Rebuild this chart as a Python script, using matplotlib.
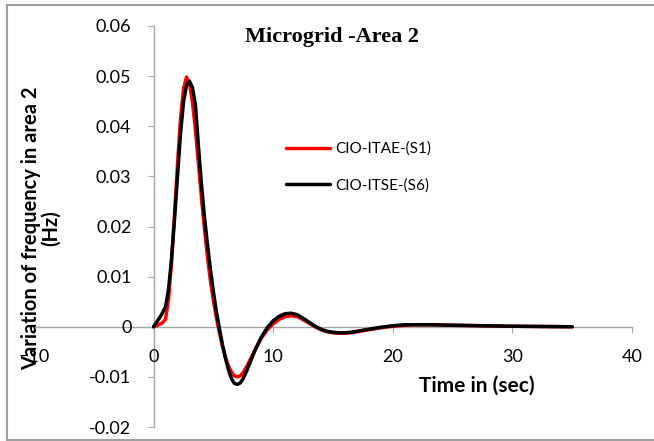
import matplotlib
matplotlib.use("Agg")
import matplotlib.pyplot as plt
from matplotlib.lines import Line2D

# Time axis (sec) and frequency deviation (Hz)
t_itae = [0, 0.25, 0.5, 0.75, 1.0, 1.25, 1.5, 1.75, 2.0, 2.25, 2.5, 2.75, 3.0,
          3.25, 3.5, 3.75, 4.0, 4.25, 4.5, 4.75, 5.0, 5.25, 5.5, 5.75, 6.0,
          6.25, 6.5, 6.75, 7.0, 7.25, 7.5, 7.75, 8.0, 8.5, 9.0, 9.5, 10.0,
          10.5, 11.0, 11.5, 12.0, 12.5, 13.0, 13.5, 14, 14.5, 15, 15.5, 16,
          16.5, 17, 18, 19, 20, 21, 22, 23, 25, 30, 35]
df_itae = [0, 0.0002, 0.0005, 0.0008, 0.0015, 0.0055, 0.013, 0.0225, 0.0325,
           0.0415, 0.0475, 0.0498, 0.0485, 0.0448, 0.0392, 0.0325, 0.0258,
           0.0195, 0.014, 0.0092, 0.0052, 0.0018, -0.0012, -0.0038, -0.006,
           -0.0078, -0.009, -0.0098, -0.0100, -0.0098, -0.0091, -0.0081,
           -0.0069, -0.0045, -0.0023, -0.0006, 0.0006, 0.0015, 0.002, 0.0022,
           0.002, 0.0014, 0.0007, 0.0, -0.0006, -0.001, -0.0012, -0.0013,
           -0.0013, -0.0012, -0.001, -0.0006, -0.0002, 0.0001, 0.0003, 0.0004,
           0.0004, 0.0003, 0.0001, 0.0]

t_itse = [0, 0.25, 0.5, 0.75, 1.0, 1.25, 1.5, 1.75, 2.0, 2.25, 2.5, 2.75, 3.0,
          3.25, 3.5, 3.75, 4.0, 4.25, 4.5, 4.75, 5.0, 5.25, 5.5, 5.75, 6.0,
          6.25, 6.5, 6.75, 7.0, 7.25, 7.5, 7.75, 8.0, 8.5, 9.0, 9.5, 10.0,
          10.5, 11.0, 11.5, 12.0, 12.5, 13.0, 13.5, 14, 14.5, 15, 15.5, 16,
          16.5, 17, 18, 19, 20, 21, 22, 23, 25, 30, 35]
df_itse = [0, 0.0009, 0.0018, 0.0028, 0.004, 0.0075, 0.0135, 0.0215, 0.030,
           0.0385, 0.0448, 0.0482, 0.049, 0.0477, 0.0442, 0.036, 0.0285, 0.022,
           0.0165, 0.0115, 0.007, 0.003, -0.0003, -0.0035, -0.0062, -0.0085,
           -0.0103, -0.0113, -0.0115, -0.0112, -0.0103, -0.009, -0.0075,
           -0.0046, -0.0021, -0.0002, 0.0012, 0.0021, 0.0026, 0.0027, 0.0024,
           0.0017, 0.0009, 0.0001, -0.0005, -0.0009, -0.0011, -0.0012, -0.0012,
           -0.0011, -0.0009, -0.0005, -0.0001, 0.0002, 0.0004, 0.0004, 0.0004,
           0.0003, 0.0001, 0.0]

x_ticks = [-10, 0, 10, 20, 30, 40]
y_ticks = [-0.02, -0.01, 0, 0.01, 0.02, 0.03, 0.04, 0.05, 0.06]
y_labels = ["-0.02", "-0.01", "0", "0.01", "0.02", "0.03", "0.04", "0.05", "0.06"]

plt.rcParams["font.family"] = ["Lato", "DejaVu Sans"]

fig = plt.figure(figsize=(6.54, 4.41), dpi=100)
ax = fig.add_axes([34 / 654, 1 - 427 / 441, 598 / 654, 401 / 441])

ax.plot(t_itae, df_itae, color="#ff0000", lw=2.5, label="CIO-ITAE-(S1)",
        solid_joinstyle="round", solid_capstyle="round")
ax.plot(t_itse, df_itse, color="black", lw=2.5, label="CIO-ITSE-(S6)",
        solid_joinstyle="round", solid_capstyle="round")

ax.set_xlim(-10, 40)
ax.set_ylim(-0.02, 0.06)
ax.set_xticks(x_ticks)
ax.set_yticks(y_ticks)
ax.set_yticklabels(y_labels)

# Excel style: axes cross at the origin
ax.spines["left"].set_position(("data", 0))
ax.spines["bottom"].set_position(("data", 0))
ax.spines["top"].set_visible(False)
ax.spines["right"].set_visible(False)
for s in ("left", "bottom"):
    ax.spines[s].set_color("#a6a6a6")
    ax.spines[s].set_linewidth(1.0)
    ax.spines[s].set_zorder(0)
ax.tick_params(axis="both", direction="out", length=4, color="#a6a6a6",
               labelsize=13)
ax.tick_params(axis="y", pad=12)
ax.tick_params(axis="x", pad=12)

ax.legend(loc="upper left", bbox_to_anchor=(278 / 654, 1 - 134 / 441),
          bbox_transform=fig.transFigure, frameon=False, fontsize=11,
          handlelength=2.9, handletextpad=0.35, labelspacing=1.45,
          borderpad=0)

fig.text(332 / 654, 1 - 37 / 441, "Microgrid -Area 2", ha="center", va="center",
         fontsize=16, fontweight="bold", family=["Liberation Serif", "DejaVu Serif"])
fig.text(41 / 654, 1 - 228 / 441, "Variation of frequency in area 2\n(Hz)",
         rotation=90, ha="center", va="center", multialignment="center",
         fontsize=14.5, fontweight="bold", linespacing=1.0)
fig.text(477 / 654, 1 - 386 / 441, "Time in (sec)", ha="center", va="center",
         fontsize=15, fontweight="bold")

# gray frame round the picture (top, left, bottom only)
fc = "#a0a0a0"
fig.add_artist(Line2D([7 / 654, 1], [1 - 5 / 441, 1 - 5 / 441], color=fc, lw=1.5,
                      transform=fig.transFigure))
fig.add_artist(Line2D([7 / 654, 7 / 654], [1 - 5 / 441, 1 - 440 / 441], color=fc,
                      lw=1.5, transform=fig.transFigure))
fig.add_artist(Line2D([7 / 654, 1], [1 - 440 / 441, 1 - 440 / 441], color=fc,
                      lw=1.5, transform=fig.transFigure))

fig.savefig("out.png", dpi=100)
